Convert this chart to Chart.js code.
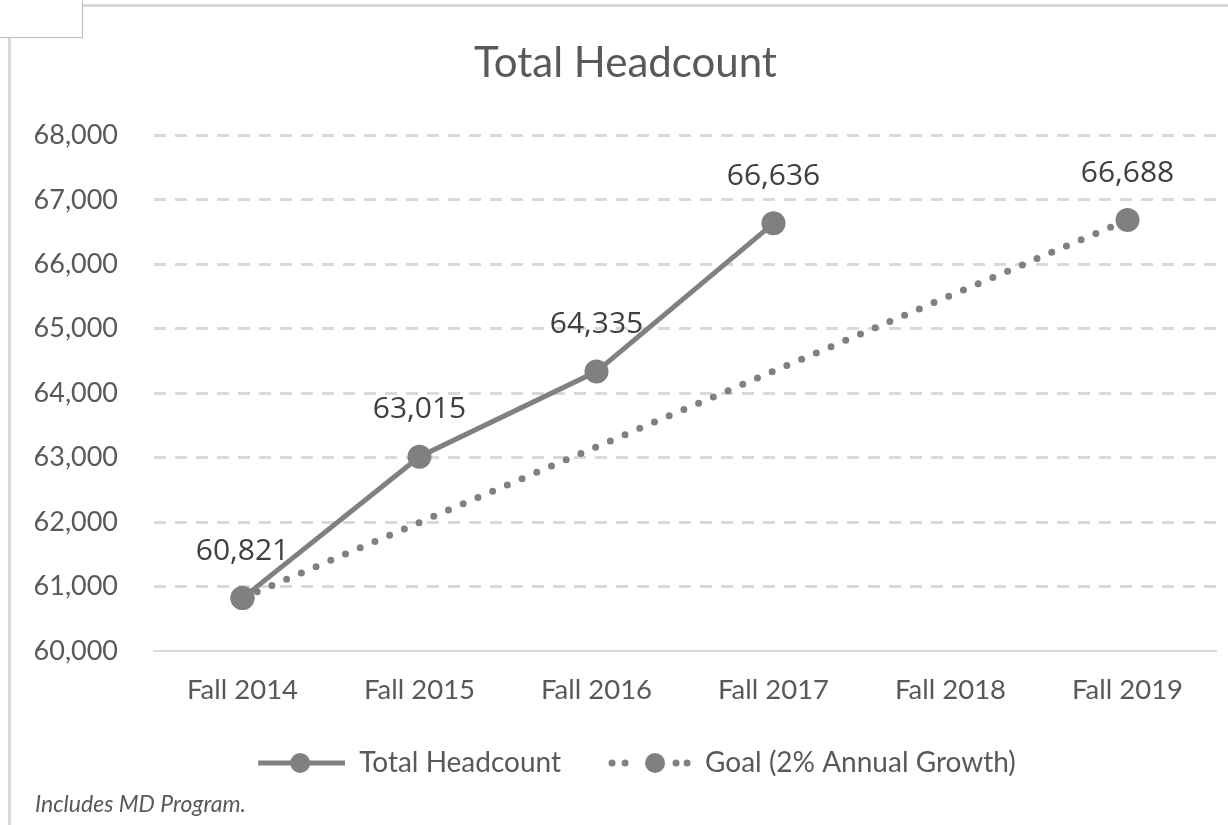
<!DOCTYPE html>
<html>
<head>
<meta charset="utf-8">
<script src="https://cdn.jsdelivr.net/npm/chart.js@4/dist/chart.umd.min.js"></script>
<style>
  html, body { margin: 0; padding: 0; background: #fff; }
  #wrap { position: relative; width: 1228px; height: 825px; overflow: hidden; }
  #chart { position: absolute; left: 0; top: 0; }
  .topline { position: absolute; left: 82px; top: 4px; width: 1146px; height: 3px; background: #d9d9d9; }
  .leftline { position: absolute; left: 8px; top: 37px; width: 3px; height: 788px; background: #d9d9d9; }
  .corner { position: absolute; left: -1px; top: -1px; width: 82px; height: 37px; border: 1px solid #bcbcbc; background: #fff; }
  #note { position: absolute; left: 35px; top: 789px; font: italic 23px Lato, sans-serif; color: #595959; }
</style>
</head>
<body>
<div id="wrap">
  <canvas id="chart" width="1228" height="825"></canvas>
  <div class="topline"></div>
  <div class="leftline"></div>
  <div class="corner"></div>
  <div id="note">Includes MD Program.</div>
</div>
<script>
var years = ["Fall 2014", "Fall 2015", "Fall 2016", "Fall 2017", "Fall 2018", "Fall 2019"];
var headcount = [60821, 63015, 64335, 66636, null, null];
var goal = [60821, null, null, null, null, 66688];
var yTicks = [60000, 61000, 62000, 63000, 64000, 65000, 66000, 67000, 68000];

var grey = "#808080";

// legend symbols, drawn flush right in a 110px box
function legendIcon(dotted)
{
  var c = document.createElement("canvas");
  c.width = 110; c.height = 26;
  var g = c.getContext("2d");
  g.fillStyle = grey;
  g.strokeStyle = grey;
  if (dotted) {
    var xs = [31, 44, 95, 106];
    for (var i = 0; i < xs.length; i++) {
      g.beginPath(); g.arc(xs[i], 13, 3.5, 0, Math.PI * 2); g.fill();
    }
    g.beginPath(); g.arc(74, 13, 10, 0, Math.PI * 2); g.fill();
  } else {
    g.lineWidth = 5;
    g.beginPath(); g.moveTo(23, 13); g.lineTo(110, 13); g.stroke();
    g.beginPath(); g.arc(65, 13, 10, 0, Math.PI * 2); g.fill();
  }
  return c;
}

var valueLabels = {
  id: "valueLabels",
  afterDatasetsDraw: function(chart) {
    var ctx = chart.ctx;
    ctx.save();
    ctx.font = "30px 'Open Sans'";
    ctx.fillStyle = "#404040";
    ctx.textAlign = "center";
    ctx.textBaseline = "middle";
    chart.data.datasets.forEach(function(ds, di) {
      var meta = chart.getDatasetMeta(di);
      meta.data.forEach(function(pt, i) {
        var v = ds.data[i];
        if (v == null) return;
        if (ds.labelSkip && ds.labelSkip.indexOf(i) >= 0) return;
        ctx.fillText(v.toLocaleString("en-US"), pt.x, pt.y - 47);
      });
    });
    ctx.restore();
  }
};

new Chart(document.getElementById("chart"), {
  type: "line",
  data: {
    labels: years,
    datasets: [
      {
        label: "Total Headcount",
        data: headcount,
        borderColor: grey,
        backgroundColor: grey,
        borderWidth: 5,
        pointRadius: 12,
        pointBackgroundColor: grey,
        pointBorderWidth: 0,
        tension: 0,
        legendIcon: legendIcon(false)
      },
      {
        label: "Goal (2% Annual Growth)",
        data: goal,
        borderColor: grey,
        backgroundColor: grey,
        borderWidth: 7,
        borderDash: [0, 16],
        borderCapStyle: "round",
        spanGaps: true,
        pointRadius: 12,
        pointBackgroundColor: grey,
        pointBorderWidth: 0,
        tension: 0,
        labelSkip: [0],
        legendIcon: legendIcon(true)
      }
    ]
  },
  options: {
    responsive: false,
    animation: { duration: 0 },
    layout: { padding: { left: 30, right: 7, bottom: 38 } },
    plugins: {
      title: {
        display: true,
        text: "Total Headcount",
        color: "#595959",
        font: { family: "Lato", size: 42, weight: "normal" },
        padding: { top: 38, bottom: 47 }
      },
      legend: {
        position: "bottom",
        labels: {
          usePointStyle: true,
          pointStyleWidth: 110,
          padding: 20,
          color: "#595959",
          font: { family: "Lato", size: 28 },
          generateLabels: function(chart) {
            return chart.data.datasets.map(function(ds, i) {
              return {
                text: ds.label,
                pointStyle: ds.legendIcon,
                fillStyle: grey,
                strokeStyle: grey,
                lineWidth: 0,
                fontColor: "#595959",
                datasetIndex: i
              };
            });
          }
        }
      },
      tooltip: { enabled: false }
    },
    scales: {
      x: {
        offset: true,
        afterFit: function(scale) { scale.height += 7; },
        grid: { display: false },
        border: { display: true, color: "#d9d9d9", width: 2 },
        ticks: { color: "#595959", font: { family: "Lato", size: 27.5 }, padding: 15 }
      },
      y: {
        min: 60000,
        max: 68000,
        afterBuildTicks: function(scale) {
          scale.ticks = yTicks.map(function(v) { return { value: v }; });
        },
        afterFit: function(scale) { scale.width = 124; },
        grid: {
          drawTicks: false,
          color: function(c) { return c.tick && c.tick.value === 60000 ? "rgba(0,0,0,0)" : "#d9d9d9"; },
          lineWidth: 3
        },
        border: { display: false, dash: [12, 9] },
        ticks: {
          color: "#595959",
          font: { family: "Lato", size: 27 },
          padding: 36,
          callback: function(v) { return Number(v).toLocaleString("en-US"); }
        }
      }
    }
  },
  plugins: [valueLabels]
});
</script>
</body>
</html>
